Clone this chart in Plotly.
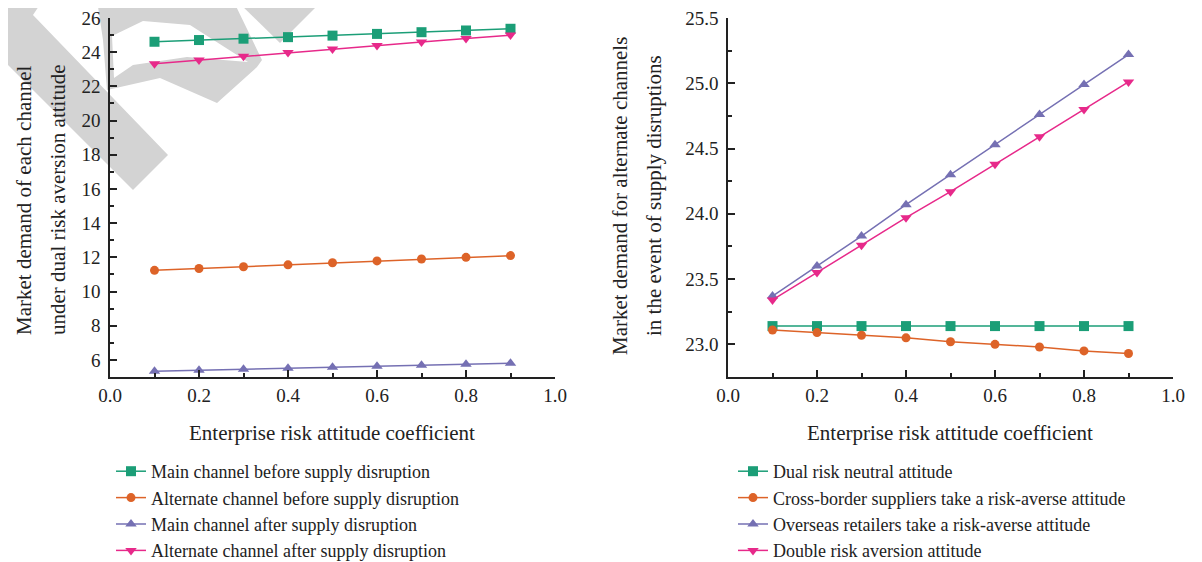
import plotly.graph_objects as go

# ---------------- data ----------------
x_vals = [0.1, 0.2, 0.3, 0.4, 0.5, 0.6, 0.7, 0.8, 0.9]

left_names = [
    "Main channel before supply disruption",
    "Alternate channel before supply disruption",
    "Main channel after supply disruption",
    "Alternate channel after supply disruption",
]
main_before = [24.61, 24.71, 24.79, 24.88, 24.97, 25.07, 25.17, 25.27, 25.37]
alt_before = [11.24, 11.35, 11.45, 11.56, 11.68, 11.79, 11.90, 12.00, 12.10]
main_after = [5.33, 5.39, 5.45, 5.51, 5.57, 5.63, 5.69, 5.75, 5.81]
alt_after = [23.32, 23.54, 23.76, 23.98, 24.19, 24.39, 24.60, 24.80, 25.00]

right_names = [
    "Dual risk neutral attitude",
    "Cross-border suppliers take a risk-averse attitude",
    "Overseas retailers take a risk-averse attitude",
    "Double risk aversion attitude",
]
neutral = [23.14, 23.14, 23.14, 23.14, 23.14, 23.14, 23.14, 23.14, 23.14]
supplier_averse = [23.11, 23.09, 23.07, 23.05, 23.02, 23.00, 22.98, 22.95, 22.93]
retailer_averse = [23.37, 23.60, 23.83, 24.07, 24.30, 24.53, 24.76, 24.99, 25.22]
double_averse = [23.34, 23.55, 23.76, 23.97, 24.17, 24.38, 24.59, 24.80, 25.01]

x_ticks = [0.0, 0.2, 0.4, 0.6, 0.8, 1.0]
left_y_ticks = [6, 8, 10, 12, 14, 16, 18, 20, 22, 24, 26]
right_y_ticks = [23.0, 23.5, 24.0, 24.5, 25.0, 25.5]

x_title = "Enterprise risk attitude coefficient"
left_y_title_lines = ["Market demand of each channel", "under dual risk aversion attitude"]
right_y_title_lines = ["Market demand for alternate channels", "in the event of supply disruptions"]

colors = ["#1b9e77", "#dd6328", "#7570b3", "#e7298a"]
symbols = ["square", "circle", "triangle-up", "triangle-down"]
sizes = [10, 9, 10, 10]

# ---------------- layout geometry ----------------
# the page body adds an 8px offset; all target positions below are in
# screenshot pixels and converted to figure coordinates.
OFF = 8
W, H = 1202, 562
PL, PR, PT, PB = 110, 1173, 18, 377  # plot area in screenshot px
ML = PL - OFF
MT = PT - OFF
MR = W - (PR - OFF)
MB = H - (PB - OFF)
PW = W - ML - MR
PH = H - MT - MB
FONT = "Liberation Serif, Times New Roman, serif"
FS = 19


def px_x(px):
    return (px - OFF - ML) / PW


def px_y(py):
    return (H - MB - (py - OFF)) / PH


left_dom = [0.0, px_x(555)]
right_dom = [px_x(728), 1.0]

fig = go.Figure()

left_series = [main_before, alt_before, main_after, alt_after]
right_series = [neutral, supplier_averse, retailer_averse, double_averse]

for i, (name, ys) in enumerate(zip(left_names, left_series)):
    fig.add_trace(go.Scatter(
        x=x_vals, y=ys, name=name, mode="lines+markers",
        line=dict(color=colors[i], width=1.5),
        marker=dict(symbol=symbols[i], size=sizes[i], color=colors[i]),
        xaxis="x", yaxis="y", legend="legend",
    ))

for i, (name, ys) in enumerate(zip(right_names, right_series)):
    fig.add_trace(go.Scatter(
        x=x_vals, y=ys, name=name, mode="lines+markers",
        line=dict(color=colors[i], width=1.5),
        marker=dict(symbol=symbols[i], size=sizes[i], color=colors[i]),
        xaxis="x2", yaxis="y2", legend="legend2",
    ))

axis_common = dict(
    showline=True, linecolor="#222", linewidth=1.5, mirror=False,
    showgrid=False, zeroline=False,
    ticks="inside", ticklen=7, tickwidth=1.5, tickcolor="#222",
    tickfont=dict(family=FONT, size=FS, color="#222"),
    ticklabeloverflow="allow",
)
minor_common = dict(ticks="inside", ticklen=4, tickwidth=1.5, tickcolor="#222")

fig.update_layout(
    width=W, height=H,
    margin=dict(l=ML, r=MR, t=MT, b=MB, autoexpand=False),
    paper_bgcolor="white", plot_bgcolor="rgba(0,0,0,0)",
    font=dict(family=FONT, size=FS, color="#222"),
    xaxis=dict(domain=left_dom, range=[0, 1], tickvals=x_ticks,
               ticktext=["%.1f" % v for v in x_ticks], anchor="y",
               minor=dict(dtick=0.1, **minor_common),
               ticklabelstandoff=0, **axis_common),
    yaxis=dict(domain=[0, 1], range=[5, 26], tickvals=left_y_ticks, anchor="x",
               minor=dict(dtick=1, tick0=5, **minor_common),
               ticklabelstandoff=4, **axis_common),
    xaxis2=dict(domain=right_dom, range=[0, 1], tickvals=x_ticks,
                ticktext=["%.1f" % v for v in x_ticks], anchor="y2",
                minor=dict(dtick=0.1, **minor_common),
                ticklabelstandoff=0, **axis_common),
    yaxis2=dict(domain=[0, 1], range=[22.75, 25.5], tickvals=right_y_ticks,
                ticktext=["%.1f" % v for v in right_y_ticks], anchor="x2",
                minor=dict(dtick=0.25, tick0=22.75, **minor_common),
                ticklabelstandoff=4, **axis_common),
    legend=dict(x=px_x(111), y=px_y(453), xanchor="left", yanchor="top",
                font=dict(family=FONT, size=18, color="#222"),
                tracegroupgap=0, bgcolor="rgba(0,0,0,0)", itemwidth=30),
    legend2=dict(x=px_x(733), y=px_y(453), xanchor="left", yanchor="top",
                 font=dict(family=FONT, size=18, color="#222"),
                 tracegroupgap=0, bgcolor="rgba(0,0,0,0)", itemwidth=30),
    showlegend=True,
)

# axis titles as annotations
TF = dict(family=FONT, size=21, color="#222")
annots = [
    dict(text=x_title, x=px_x(332), y=px_y(433)),
    dict(text=x_title, x=px_x(950), y=px_y(433)),
    dict(text=left_y_title_lines[0], x=px_x(24), y=px_y(200), textangle=-90),
    dict(text=left_y_title_lines[1], x=px_x(58), y=px_y(200), textangle=-90),
    dict(text=right_y_title_lines[0], x=px_x(620), y=px_y(196), textangle=-90),
    dict(text=right_y_title_lines[1], x=px_x(654), y=px_y(196), textangle=-90),
]
for a in annots:
    a.update(xref="paper", yref="paper", xanchor="center", yanchor="middle",
             showarrow=False, font=TF)
fig.update_layout(annotations=annots)


# watermark decoration (gray shape at top-left), given in screenshot px
def path_from_px(pts):
    return "M " + " L ".join("%.5f,%.5f" % (px_x(a), px_y(b)) for a, b in pts) + " Z"


wm_gray = "rgb(211,211,211)"
stem = [(0, 0), (43, 0), (33, 15), (168, 155), (133, 190), (0, 57)]
ring = [(97, 0), (233, 0), (262, 60), (257, 67), (217, 103), (160, 78), (107, 90), (103, 40)]
hole = [(112, 36), (143, 21), (190, 25), (248, 62), (187, 57), (133, 65), (114, 78)]
vtri = [(236, 0), (323, 0), (280, 43)]

shapes = []
for pts, col in [(stem, wm_gray), (ring, wm_gray), (hole, "white"), (vtri, wm_gray)]:
    shapes.append(dict(type="path", path=path_from_px(pts), xref="paper", yref="paper",
                       fillcolor=col, line=dict(width=0), layer="below"))
fig.update_layout(shapes=shapes)

fig.write_html("out.html")
